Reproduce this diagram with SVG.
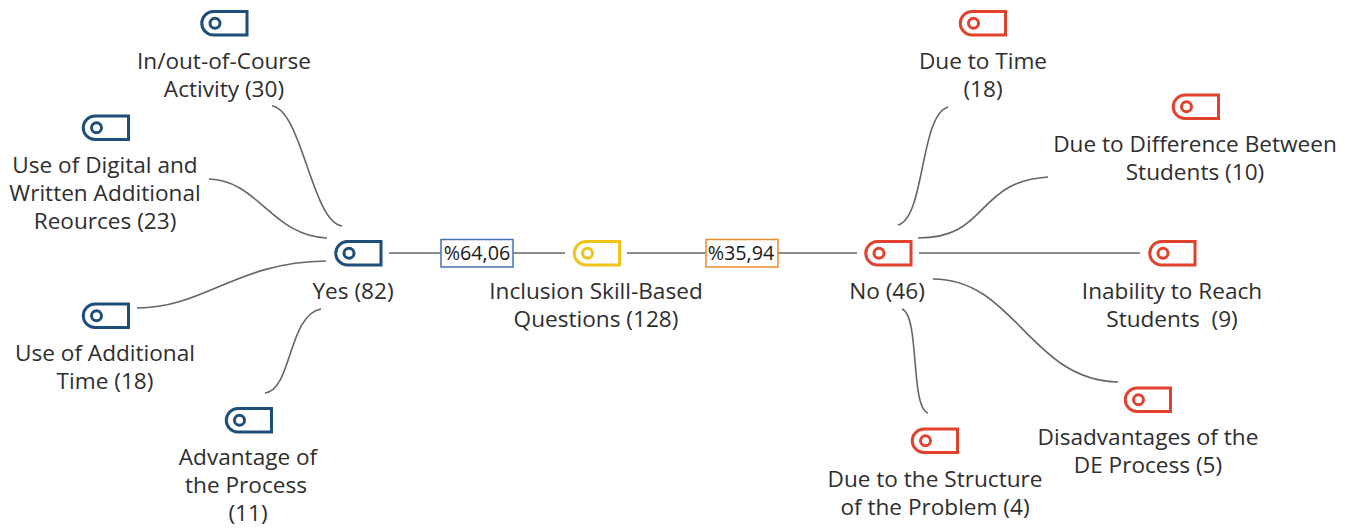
<svg xmlns="http://www.w3.org/2000/svg" width="1352" height="528" viewBox="0 0 1352 528">
<style>
.t{font-family:"Open Sans","Noto Sans",sans-serif;font-size:22.6px;fill:#2e2e2e;text-anchor:middle;white-space:pre}
.p{font-family:"Open Sans","Noto Sans",sans-serif;font-size:19.8px;fill:#1a1a1a;text-anchor:middle}
.c{fill:none;stroke:#666;stroke-width:1.6}
.tag{fill:#fff;stroke-width:3}
.b{stroke:#1f4e79}.y{stroke:#f0c419}.r{stroke:#e2412e}
</style>
<defs>
<g id="tag"><path d="M12.500 0H46V23.500H12.500A11.750 11.750 0 0 1 12.500 0Z"/><circle cx="14" cy="11.750" r="5" fill="none"/></g>
</defs>
<rect width="1352" height="528" fill="#fff"/>
<g id="connectors">
<path class="c" d="M272 106C302 110 312 222 342 226"/>
<path class="c" d="M209 179C258 180 272 236 327 238"/>
<path class="c" d="M137 308C205 308 236 262 326 261"/>
<path class="c" d="M265 393C292 390 288 315 321 309"/>
<path class="c" d="M389 253H441"/>
<path class="c" d="M513 253H565"/>
<path class="c" d="M627 253H706"/>
<path class="c" d="M778 253H857"/>
<path class="c" d="M898 225C925 218 920 115 948 107"/>
<path class="c" d="M918 238C990 238 974 182 1048 177"/>
<path class="c" d="M919 253H1140"/>
<path class="c" d="M933 279C1015 279 1030 380 1118 382"/>
<path class="c" d="M902 309C920 315 910 408 928 413"/>
</g>
<g id="node-root"><use href="#tag" class="tag y" x="573.500" y="241.500"/><text class="t" x="596" y="298.500">Inclusion Skill-Based</text><text class="t" x="596" y="326.500">Questions (128)</text></g>
<g id="node-yes"><use href="#tag" class="tag b" x="335" y="241.500"/><text class="t" x="353" y="298.500">Yes (82)</text></g>
<g id="node-no"><use href="#tag" class="tag r" x="865" y="241.500"/><text class="t" x="887" y="298.500">No (46)</text></g>
<g id="node-pct1"><rect x="441" y="239.500" width="72" height="27.500" fill="#fff" stroke="#4472b4" stroke-width="1.500"/><text class="p" x="477" y="260">%64,06</text></g>
<g id="node-pct2"><rect x="706" y="239.500" width="72" height="27.500" fill="#fff" stroke="#ed8a2c" stroke-width="1.500"/><text class="p" x="741" y="260">%35,94</text></g>
<g id="node-y1"><use href="#tag" class="tag b" x="201" y="11.500"/><text class="t" x="224" y="68.500">In/out-of-Course</text><text class="t" x="224" y="96.500">Activity (30)</text></g>
<g id="node-y2"><use href="#tag" class="tag b" x="82.500" y="116"/><text class="t" x="105" y="172.500">Use of Digital and</text><text class="t" x="105" y="200.500">Written Additional</text><text class="t" x="105" y="228.500">Reources (23)</text></g>
<g id="node-y3"><use href="#tag" class="tag b" x="82.500" y="304"/><text class="t" x="105" y="361">Use of Additional</text><text class="t" x="105" y="389">Time (18)</text></g>
<g id="node-y4"><use href="#tag" class="tag b" x="225.500" y="408.500"/><text class="t" x="248" y="465">Advantage of</text><text class="t" x="246" y="493">the Process</text><text class="t" x="248" y="521">(11)</text></g>
<g id="node-n1"><use href="#tag" class="tag r" x="959.500" y="11.500"/><text class="t" x="983" y="68.500">Due to Time</text><text class="t" x="983" y="96.500">(18)</text></g>
<g id="node-n2"><use href="#tag" class="tag r" x="1172.500" y="95"/><text class="t" x="1195" y="151.500">Due to Difference Between</text><text class="t" x="1195" y="179.500">Students (10)</text></g>
<g id="node-n3"><use href="#tag" class="tag r" x="1149" y="241.500"/><text class="t" x="1172" y="298.500">Inability to Reach</text><text class="t" x="1172" y="326.500">Students  (9)</text></g>
<g id="node-n4"><use href="#tag" class="tag r" x="1124.500" y="388"/><text class="t" x="1148" y="445">Disadvantages of the</text><text class="t" x="1148" y="473">DE Process (5)</text></g>
<g id="node-n5"><use href="#tag" class="tag r" x="911.500" y="429"/><text class="t" x="935" y="486.500">Due to the Structure</text><text class="t" x="935" y="514.500">of the Problem (4)</text></g>
</svg>
